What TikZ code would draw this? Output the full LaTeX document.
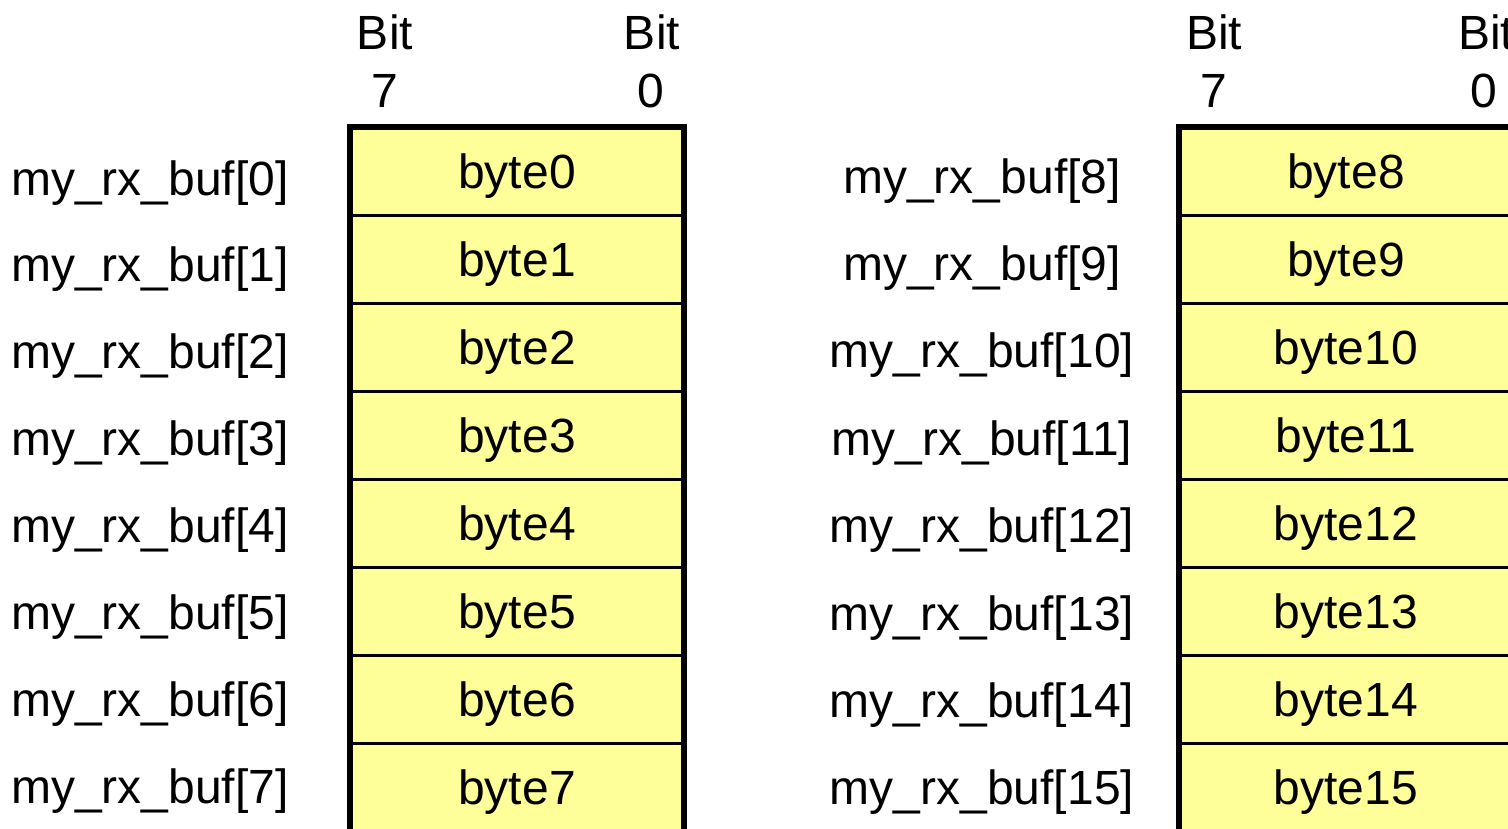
\documentclass[tikz,border=0pt]{standalone}
\usepackage{fontspec}
\setmainfont{Liberation Sans}
\usetikzlibrary{calc}
\definecolor{cellyellow}{RGB}{255,255,153}
\begin{document}
\begin{tikzpicture}[x=1pt,y=-1pt,
  txt/.style={font=\fontsize{48}{58}\selectfont, inner sep=0pt, anchor=base},
  cell/.style={draw, line width=3pt, fill=cellyellow, minimum width=334pt,
    minimum height=88.1pt, inner sep=0pt, outer sep=0pt},
  frame/.style={line width=6pt}]
\useasboundingbox (0,0) rectangle (1508,828);
\clip (0,0) rectangle (1508,828);

% bit-number headers
\node[txt] (bitL7) at (385,49) {Bit};
\node[txt] (numL7) at (385,107) {7};
\node[txt] (bitL0) at (652,49) {Bit};
\node[txt] (numL0) at (651,107) {0};
\node[txt] (bitR7) at (1214,49) {Bit};
\node[txt] (numR7) at (1214,107) {7};
\node[txt] (bitR0) at (1486,49) {Bit};
\node[txt] (numR0) at (1484,107) {0};

% buffer rows
\foreach \i in {0,...,7} {
  \pgfmathsetmacro\cy{171.05+88.1*\i}
  \pgfmathsetmacro\ly{195+86.9*\i}
  \pgfmathsetmacro\ry{193+87.4*\i}
  \pgfmathtruncatemacro\j{\i+8}
  \node[cell] (L\i) at (517,\cy) {};
  \node[txt] (LB\i) at ($(L\i.center)+(0,17)$) {byte\i};
  \node[txt] (LL\i) at (150,\ly) {my\_rx\_buf[\i]};
  \node[cell] (R\i) at (1346,\cy) {};
  \node[txt] (RB\i) at ($(R\i.center)+(0,17)$) {byte\j};
  \node[txt] (RL\i) at (982,\ry) {my\_rx\_buf[\j]};
}

% outer frames
\draw[frame] (L0.north west) rectangle (L7.south east);
\draw[frame] (R0.north west) rectangle (R7.south east);
\end{tikzpicture}
\end{document}
